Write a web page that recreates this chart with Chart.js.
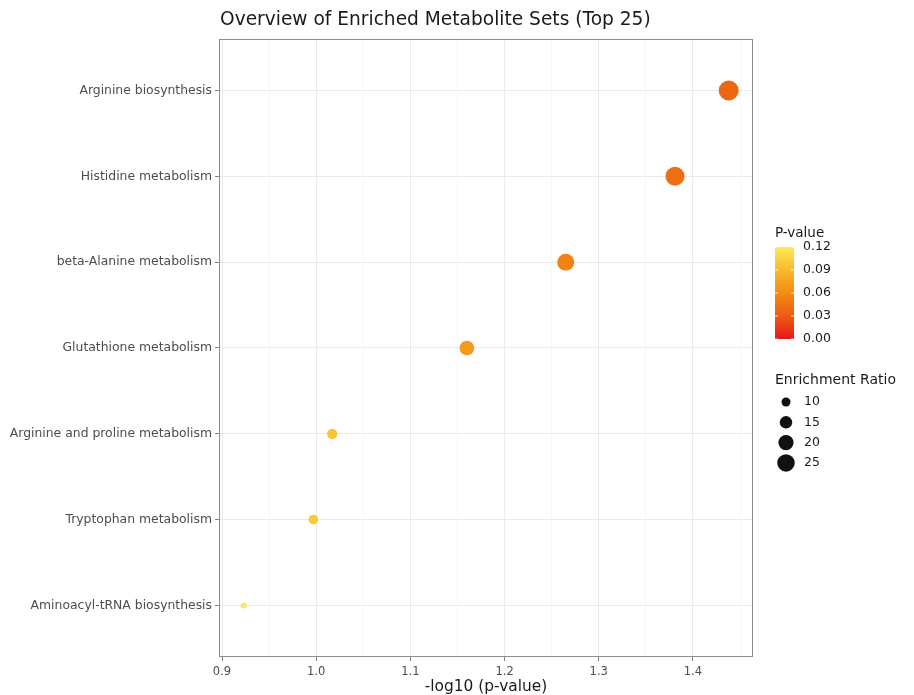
<!DOCTYPE html>
<html>
<head>
<meta charset="utf-8">
<script src="https://cdn.jsdelivr.net/npm/chart.js@4.4.1/dist/chart.umd.min.js"></script>
<style>
  html, body { margin: 0; padding: 0; background: #ffffff; }
  #wrap { width: 914px; height: 695px; position: relative; }
</style>
</head>
<body>
<div id="wrap"><canvas id="chart"></canvas></div>
<script>
// Données (de bas en haut)
const pathways = [
    'Aminoacyl-tRNA biosynthesis',
    'Tryptophan metabolism',
    'Arginine and proline metabolism',
    'Glutathione metabolism',
    'beta-Alanine metabolism',
    'Histidine metabolism',
    'Arginine biosynthesis'
];
const negLogP = [0.923, 0.997, 1.017, 1.160, 1.265, 1.381, 1.438];
const enrichmentRatio = [7.0, 10.9, 11.7, 19.0, 23.9, 28.7, 31.3];

const xMajorTicks = [0.9, 1.0, 1.1, 1.2, 1.3, 1.4];
const pValueTicks = [0.00, 0.03, 0.06, 0.09, 0.12];
const ratioTicks = [10, 15, 20, 25];

// Échelle de couleurs (p-value -> couleur)
const colorStops = [
    [0.00, [230, 22, 28]],
    [0.03, [236, 92, 18]],
    [0.06, [242, 140, 20]],
    [0.09, [248, 185, 45]],
    [0.12, [255, 234, 90]]
];

function pColor(p) {
    if (p <= colorStops[0][0]) return rgb(colorStops[0][1]);
    for (let i = 1; i < colorStops.length; i++) {
        const [p1, c1] = colorStops[i];
        const [p0, c0] = colorStops[i - 1];
        if (p <= p1) {
            const t = (p - p0) / (p1 - p0);
            return rgb(c0.map((v, k) => v + (c1[k] - v) * t));
        }
    }
    return rgb(colorStops[colorStops.length - 1][1]);
}

function rgb(c) {
    return 'rgb(' + c.map(v => Math.round(v)).join(',') + ')';
}

// Taille des points (ratio d'enrichissement -> rayon en px)
function ratioRadius(v) {
    return Math.sqrt(15 * Math.max(v - 4.6, 0.5)) / 2;
}

const xGridTicks = [];
xMajorTicks.forEach(v => {
    xGridTicks.push(v);
    xGridTicks.push(+(v + 0.05).toFixed(2));
});
const isMajor = v => xMajorTicks.some(m => Math.abs(m - v) < 1e-6);

const PLOT = { left: 219, right: 753, top: 39, bottom: 657 };
const FONT = '"DejaVu Sans", sans-serif';

const bubbles = negLogP.map((x, i) => ({
    x: x,
    y: i + 1,
    r: ratioRadius(enrichmentRatio[i])
}));
const pointColors = negLogP.map(x => pColor(Math.pow(10, -x)));

// Titre, cadre et légendes
const decorPlugin = {
    id: 'decor',
    afterDatasetsDraw(chart) {
        const ctx = chart.ctx;
        const area = chart.chartArea;
        ctx.save();

        // cadre du panneau
        ctx.strokeStyle = '#8c8c8c';
        ctx.lineWidth = 1;
        ctx.strokeRect(area.left + 0.5, area.top + 0.5, area.right - area.left - 1, area.bottom - area.top - 1);

        // titre
        ctx.fillStyle = '#1a1a1a';
        ctx.font = '18.6px ' + FONT;
        ctx.textAlign = 'left';
        ctx.textBaseline = 'middle';
        ctx.fillText('Overview of Enriched Metabolite Sets (Top 25)', area.left + 1, 20);

        // légende p-value
        const barX = 775, barW = 19, barTop = 247, barBottom = 339;
        ctx.font = '13.5px ' + FONT;
        ctx.fillStyle = '#1a1a1a';
        ctx.fillText('P-value', 775, 233);
        const pMax = pValueTicks[pValueTicks.length - 1];
        const grad = ctx.createLinearGradient(0, barBottom, 0, barTop);
        colorStops.forEach(([p, c]) => grad.addColorStop(p / pMax, rgb(c)));
        ctx.fillStyle = grad;
        ctx.fillRect(barX, barTop, barW, barBottom - barTop);
        ctx.font = '12.5px ' + FONT;
        pValueTicks.forEach(p => {
            const y = barBottom - (p / pMax) * (barBottom - barTop);
            ctx.strokeStyle = 'rgba(255,255,255,0.8)';
            ctx.beginPath();
            ctx.moveTo(barX, y); ctx.lineTo(barX + 3, y);
            ctx.moveTo(barX + barW - 3, y); ctx.lineTo(barX + barW, y);
            ctx.stroke();
            ctx.fillStyle = '#1a1a1a';
            ctx.fillText(p.toFixed(2), 803, y);
        });

        // légende taille
        ctx.font = '14px ' + FONT;
        ctx.fillText('Enrichment Ratio', 775, 380);
        ctx.font = '12.5px ' + FONT;
        ratioTicks.forEach((v, i) => {
            const y = 402 + i * 20.3;
            ctx.fillStyle = '#111111';
            ctx.beginPath();
            ctx.arc(786, y, ratioRadius(v), 0, Math.PI * 2);
            ctx.fill();
            ctx.fillStyle = '#1a1a1a';
            ctx.fillText(String(v), 804, y);
        });

        ctx.restore();
    }
};

const chart = new Chart(document.getElementById('chart'), {
    type: 'bubble',
    data: {
        datasets: [{
            label: 'Metabolite sets',
            data: bubbles,
            backgroundColor: pointColors,
            borderWidth: 0,
            hoverBorderWidth: 0
        }]
    },
    options: {
        responsive: true,
        maintainAspectRatio: false,
        animation: false,
        events: [],
        layout: {
            padding: { top: PLOT.top, right: 914 - PLOT.right, left: 0, bottom: 0 }
        },
        plugins: {
            legend: { display: false },
            title: { display: false },
            tooltip: { enabled: false }
        },
        scales: {
            x: {
                type: 'linear',
                min: 0.8968,
                max: 1.4638,
                afterBuildTicks: axis => {
                    axis.ticks = xGridTicks.map(v => ({ value: v }));
                },
                afterFit: axis => { axis.height = 695 - PLOT.bottom; },
                border: { display: false },
                grid: {
                    color: ctx => isMajor(ctx.tick.value) ? '#ebebeb' : '#f4f4f4',
                    lineWidth: ctx => isMajor(ctx.tick.value) ? 1 : 0.8,
                    tickColor: ctx => isMajor(ctx.tick.value) ? '#7f7f7f' : 'rgba(0,0,0,0)',
                    tickLength: 4
                },
                ticks: {
                    autoSkip: false,
                    maxRotation: 0,
                    padding: 4,
                    color: '#4d4d4d',
                    font: { family: FONT, size: 11.5 },
                    callback: v => isMajor(v) ? v.toFixed(1) : ''
                },
                title: {
                    display: true,
                    text: '-log10 (p-value)',
                    color: '#1a1a1a',
                    font: { family: FONT, size: 15.4, lineHeight: 1.0 },
                    padding: { top: 0, bottom: 0 }
                }
            },
            y: {
                type: 'linear',
                min: 0.4,
                max: pathways.length + 0.6,
                afterBuildTicks: axis => {
                    axis.ticks = pathways.map((p, i) => ({ value: i + 1 }));
                },
                afterFit: axis => { axis.width = PLOT.left; },
                border: { display: false },
                grid: {
                    color: '#ebebeb',
                    lineWidth: 1,
                    tickColor: '#7f7f7f',
                    tickLength: 4
                },
                ticks: {
                    autoSkip: false,
                    padding: 3,
                    color: '#4d4d4d',
                    font: { family: FONT, size: 12.4 },
                    callback: v => pathways[Math.round(v) - 1] || ''
                }
            }
        }
    },
    plugins: [decorPlugin]
});
</script>
</body>
</html>
